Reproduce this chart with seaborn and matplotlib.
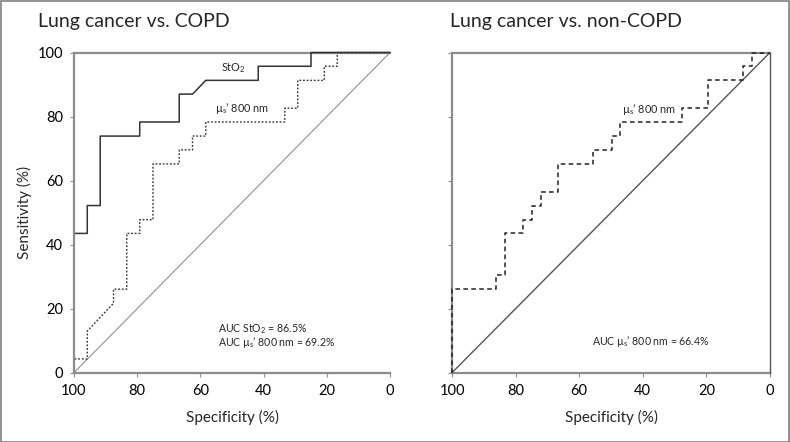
import numpy as np
import pandas as pd
import matplotlib
matplotlib.use("Agg")
import matplotlib.pyplot as plt
import seaborn as sns
from matplotlib.patches import Rectangle

# ROC DATA

# Lung cancer vs. COPD - StO2
sto2_spec = [100, 100, 95.8, 95.8, 91.7, 91.7, 79.2, 79.2, 66.7, 66.7, 62.5,
             58.3, 41.7, 41.7, 25.0, 25.0, 0]
sto2_sens = [0, 43.5, 43.5, 52.2, 52.2, 73.9, 73.9, 78.3, 78.3, 87.0, 87.0,
             91.3, 91.3, 95.7, 95.7, 100, 100]

# Lung cancer vs. COPD - mus' 800 nm
mus_copd_spec = [100, 100, 95.8, 95.8, 87.5, 87.5, 83.3, 83.3, 79.2, 79.2,
                 75.0, 75.0, 66.7, 66.7, 62.5, 62.5, 58.3, 58.3, 33.3, 33.3,
                 29.2, 29.2, 20.8, 20.8, 16.7, 16.7, 0]
mus_copd_sens = [0, 4.3, 4.3, 13.0, 21.7, 26.1, 26.1, 43.5, 43.5, 47.8,
                 47.8, 65.2, 65.2, 69.6, 69.6, 73.9, 73.9, 78.3, 78.3, 82.6,
                 82.6, 91.3, 91.3, 95.7, 95.7, 100, 100]

# Lung cancer vs. non-COPD - mus' 800 nm
mus_non_spec = [100, 100, 86.2, 86.2, 83.3, 83.3, 77.6, 77.6, 74.7, 74.7,
                72.1, 72.1, 66.8, 66.8, 55.6, 55.6, 49.8, 49.8, 47.2, 47.2,
                27.8, 27.8, 19.4, 19.4, 8.4, 8.4, 5.8, 5.8, 0]
mus_non_sens = [0, 26.1, 26.1, 30.4, 30.4, 43.5, 43.5, 47.8, 47.8, 52.2,
                52.2, 56.5, 56.5, 65.2, 65.2, 69.6, 69.6, 73.9, 73.9, 78.3,
                78.3, 82.6, 82.6, 91.3, 91.3, 95.7, 95.7, 100, 100]

ref_line = [100, 0]
ticks = [0, 20, 40, 60, 80, 100]

auc_copd = ["AUC StO$_2$ = 86.5%", "AUC \u00b5$_\\mathrm{s}$\u2019 800 nm = 69.2%"]
auc_non = "AUC \u00b5$_\\mathrm{s}$\u2019 800 nm = 66.4%"
mus_label = "\u00b5$_\\mathrm{s}$\u2019 800 nm"

# STYLE

sns.set_theme(style="white")
plt.rcParams["font.family"] = ["Lato", "DejaVu Sans"]
plt.rcParams["mathtext.fontset"] = "custom"
plt.rcParams["mathtext.rm"] = "Lato"
plt.rcParams["mathtext.it"] = "Lato:italic"
plt.rcParams["mathtext.default"] = "regular"

axis_grey = "#8c8c8c"

fig = plt.figure(figsize=(7.9, 4.42), dpi=100)
ax1 = fig.add_axes([74 / 790, 1 - 372.7 / 442, 316 / 790, 320.2 / 442])
ax2 = fig.add_axes([452 / 790, 1 - 372.7 / 442, 318 / 790, 320.2 / 442])

# Left panel
df_sto2 = pd.DataFrame({"spec": sto2_spec, "sens": sto2_sens})
df_mus1 = pd.DataFrame({"spec": mus_copd_spec, "sens": mus_copd_sens})
df_ref = pd.DataFrame({"spec": ref_line, "sens": ref_line[::-1]})

sns.lineplot(data=df_ref, x="spec", y="sens", ax=ax1, sort=False, estimator=None,
             color="#909090", linewidth=0.8)
sns.lineplot(data=df_mus1, x="spec", y="sens", ax=ax1, sort=False, estimator=None,
             color="#333333", linewidth=1.0, linestyle=(0, (1.3, 1.3)), clip_on=False)
sns.lineplot(data=df_sto2, x="spec", y="sens", ax=ax1, sort=False, estimator=None,
             color="#333333", linewidth=1.1, clip_on=False)

# Right panel
df_mus2 = pd.DataFrame({"spec": mus_non_spec, "sens": mus_non_sens})
sns.lineplot(data=df_ref, x="spec", y="sens", ax=ax2, sort=False, estimator=None,
             color="#555555", linewidth=1.0)
sns.lineplot(data=df_mus2, x="spec", y="sens", ax=ax2, sort=False, estimator=None,
             color="#222222", linewidth=1.1, linestyle=(0, (3, 2.2)), clip_on=False)

for ax in (ax1, ax2):
    ax.set_xlim(100, 0)
    ax.set_ylim(0, 100)
    ax.set_xticks(ticks)
    ax.set_yticks(ticks)
    ax.tick_params(axis="both", direction="out", length=3, width=0.8,
                   color=axis_grey, labelsize=10.5, labelcolor="black", pad=5)
    ax.tick_params(axis="y", left=True)
    ax.tick_params(axis="x", bottom=True)
    for side in ("left", "bottom", "top"):
        ax.spines[side].set_color(axis_grey)
        ax.spines[side].set_linewidth(1.6)
        ax.spines[side].set_zorder(0.5)
    ax.spines["right"].set_visible(False)
    ax.set_xlabel("Specificity (%)", fontsize=11, labelpad=9)
    ax.set_ylabel("")

# the left axis of the COPD panel sits on top of the curves
ax1.spines["left"].set_zorder(3)
ax1.spines["bottom"].set_zorder(3)

ax2.spines["right"].set_visible(True)
ax2.spines["right"].set_color("#555555")
ax2.spines["right"].set_linewidth(1.0)
ax2.tick_params(axis="y", labelleft=False)
ax1.set_ylabel("Sensitivity (%)", fontsize=11, labelpad=4)

# Labels inside panels
ax1.text(49.7, 95.2, "StO$_2$", fontsize=7.8, ha="center", va="center")
ax1.text(46.8, 82.4, mus_label, fontsize=7.8, ha="center", va="center")
ax1.text(54.3, 13.6, auc_copd[0], fontsize=7.6, ha="left", va="center")
ax1.text(54.3, 9.5, auc_copd[1], fontsize=7.6, ha="left", va="center")

ax2.text(38, 82.1, mus_label, fontsize=7.8, ha="center", va="center")
ax2.text(37.4, 9.7, auc_non, fontsize=7.6, ha="center", va="center")

# Titles
fig.text(38 / 790, 1 - 22 / 442, "Lung cancer vs. COPD", fontsize=14, ha="left", va="center")
fig.text(450 / 790, 1 - 22 / 442, "Lung cancer vs. non-COPD", fontsize=14, ha="left", va="center")

# Outer frame
fig.patches.append(Rectangle((0.001, 0.001), 0.998, 0.997, transform=fig.transFigure,
                             fill=False, edgecolor="#808080", linewidth=1.2))

fig.savefig("out.png", dpi=100)
plt.close(fig)
